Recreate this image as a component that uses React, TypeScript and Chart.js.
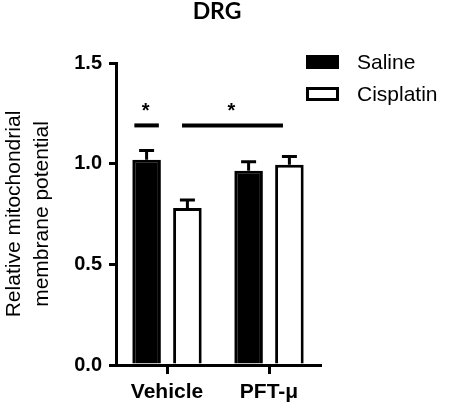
import React, { useEffect, useRef } from 'react';
import { Chart, registerables } from 'chart.js';

Chart.register(...registerables);

const chartTitle = 'DRG';
const categories = ['Vehicle', 'PFT-μ'];
const seriesNames = ['Saline', 'Cisplatin'];
const salineMean = [1.02, 0.965];
const salineSem = [0.045, 0.045];
const cisplatinMean = [0.78, 0.995];
const cisplatinSem = [0.04, 0.04];
const yMin = 0;
const yMax = 1.5;
const yStep = 0.5;
const yTitle = ['Relative mitochondrial', 'membrane potential'];
// significance bars: from/to in category index units, level in y units
const sigFrom = [-0.32, 0.147];
const sigTo = [-0.08, 1.137];
const sigLevel = [1.19, 1.19];
const sigStarLevel = [1.285, 1.285];
const sigLabel = ['*', '*'];

const FONT = "'Liberation Sans', Arial, sans-serif";

const errorBarPlugin = {
  id: 'errorBars',
  afterDatasetsDraw(chart: any) {
    const ctx = chart.ctx;
    const y = chart.scales.y;
    chart.data.datasets.forEach((ds: any, i: number) => {
      const meta = chart.getDatasetMeta(i);
      meta.data.forEach((bar: any, j: number) => {
        const top = y.getPixelForValue(ds.data[j] + ds.sem[j]);
        const x = bar.x;
        ctx.save();
        ctx.strokeStyle = '#000';
        ctx.lineWidth = 3;
        ctx.beginPath();
        ctx.moveTo(x, bar.y);
        ctx.lineTo(x, top);
        ctx.moveTo(x - 7.5, top);
        ctx.lineTo(x + 7.5, top);
        ctx.stroke();
        ctx.restore();
      });
    });
  },
};

const sigPlugin = {
  id: 'sigBars',
  afterDatasetsDraw(chart: any) {
    const ctx = chart.ctx;
    const xs = chart.scales.x;
    const ys = chart.scales.y;
    sigFrom.forEach((f, i) => {
      const x0 = xs.getPixelForValue(f);
      const x1 = xs.getPixelForValue(sigTo[i]);
      const yy = ys.getPixelForValue(sigLevel[i]);
      ctx.save();
      ctx.strokeStyle = '#000';
      ctx.lineWidth = 4;
      ctx.beginPath();
      ctx.moveTo(x0, yy);
      ctx.lineTo(x1, yy);
      ctx.stroke();
      ctx.fillStyle = '#000';
      ctx.font = `bold 20px ${FONT}`;
      ctx.textAlign = 'center';
      ctx.textBaseline = 'middle';
      ctx.fillText(sigLabel[i], (x0 + x1) / 2 - 1, ys.getPixelForValue(sigStarLevel[i]) + 5);
      ctx.restore();
    });
  },
};

const legendPlugin = {
  id: 'customLegend',
  afterDraw(chart: any) {
    const ctx = chart.ctx;
    const area = chart.chartArea;
    const bx = area.right - 14;
    const bw = 33;
    const bh = 14;
    chart.data.datasets.forEach((ds: any, i: number) => {
      const by = area.top - 8 + i * 32;
      ctx.save();
      ctx.fillStyle = ds.backgroundColor;
      ctx.fillRect(bx, by, bw, bh);
      ctx.strokeStyle = ds.borderColor;
      ctx.lineWidth = 3;
      ctx.strokeRect(bx + 1.5, by + 1.5, bw - 3, bh - 3);
      ctx.fillStyle = '#000';
      ctx.font = `21px ${FONT}`;
      ctx.textAlign = 'left';
      ctx.textBaseline = 'middle';
      ctx.fillText(ds.label, bx + bw + 18, by + bh / 2 + 1);
      ctx.restore();
    });
  },
};

export default function App() {
  const ref = useRef<HTMLCanvasElement | null>(null);

  useEffect(() => {
    if (!ref.current) return;
    const chart = new Chart(ref.current, {
      type: 'bar',
      data: {
        labels: categories,
        datasets: [
          {
            label: seriesNames[0],
            data: salineMean,
            sem: salineSem,
            backgroundColor: '#000000',
            borderColor: '#000000',
            borderWidth: 3,
            categoryPercentage: 0.8,
            barPercentage: 0.7,
          } as any,
          {
            label: seriesNames[1],
            data: cisplatinMean,
            sem: cisplatinSem,
            backgroundColor: '#ffffff',
            borderColor: '#000000',
            borderWidth: 3,
            categoryPercentage: 0.8,
            barPercentage: 0.7,
          } as any,
        ],
      },
      options: {
        responsive: false,
        animation: false,
        layout: { padding: { left: 0, right: 20, top: 0, bottom: 0 } },
        plugins: {
          legend: { display: false },
          tooltip: { enabled: false },
          title: {
            display: true,
            text: chartTitle,
            color: '#000',
            font: { family: "Lato, 'Liberation Sans', sans-serif", weight: 'bold', size: 23, lineHeight: 1 },
            padding: { top: 0, bottom: 40 },
          },
        },
        scales: {
          x: {
            offset: true,
            grid: {
              display: true,
              drawOnChartArea: false,
              drawTicks: true,
              tickLength: 9,
              lineWidth: 3,
              color: '#000',
              offset: false,
            },
            border: { display: true, width: 3, color: '#000' },
            ticks: {
              color: '#000',
              font: { family: FONT, size: 21, weight: 'bold' },
              padding: 6,
            },
            afterFit: (s: any) => {
              s.height = 44;
            },
          },
          y: {
            min: yMin,
            max: yMax,
            grid: {
              display: true,
              drawOnChartArea: false,
              drawTicks: true,
              tickLength: 7,
              lineWidth: 3,
              color: '#000',
            },
            border: { display: true, width: 3, color: '#000' },
            ticks: {
              stepSize: yStep,
              color: '#000',
              font: { family: FONT, size: 20, weight: 'bold' },
              padding: 7,
              callback: (v: any) => Number(v).toFixed(1),
            },
            title: {
              display: true,
              text: yTitle,
              color: '#000',
              font: { family: FONT, size: 21, lineHeight: 1.33 },
              padding: 0,
            },
            afterFit: (s: any) => {
              s.width = 116;
            },
          },
          spacer: {
            type: 'linear',
            position: 'right',
            display: true,
            grid: { display: false, drawTicks: false },
            border: { display: false },
            ticks: { display: false },
            afterFit: (s: any) => {
              s.width = 114;
            },
          },
        },
      } as any,
      plugins: [errorBarPlugin, sigPlugin, legendPlugin],
    });
    return () => chart.destroy();
  }, []);

  return (
    <div style={{ position: 'absolute', left: 0, top: 0, width: 454, height: 409, background: '#fff' }}>
      <canvas ref={ref} width={454} height={409} style={{ display: 'block' }} />
    </div>
  );
}
